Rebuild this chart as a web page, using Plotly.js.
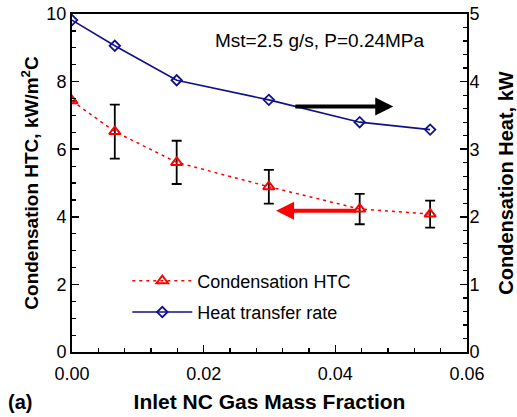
<!DOCTYPE html>
<html><head><meta charset="utf-8">
<script src="https://cdn.plot.ly/plotly-3.0.1.min.js"></script>
<style>html,body{margin:0;padding:0;background:#fff}#chart{width:517px;height:417px}</style>
</head><body><div id="chart"></div>
<script>
const ncFraction = [0.0, 0.0065, 0.0159, 0.0299, 0.0437, 0.0544];
const htc = [7.43, 6.52, 5.61, 4.89, 4.23, 4.08];
const htcErr = [0, 0.8, 0.64, 0.5, 0.45, 0.4];
const heatRate = [4.91, 4.53, 4.02, 3.73, 3.40, 3.29];
const seriesNames = ["Condensation HTC", "Heat transfer rate"];
const noteText = "Mst=2.5 g/s, P=0.24MPa";

const F = "Liberation Sans, Arial, Helvetica, sans-serif";
const traces = [
  {x: ncFraction, y: htc, name: seriesNames[0], type: 'scatter', mode: 'lines+markers',
   legendgroup: 'a',
   line: {color: '#ff0000', width: 1.5, dash: '3px,4px'},
   marker: {symbol: 'triangle-up-open', size: 10, color: '#ff0000', line: {width: 2}},
   error_y: {type: 'data', array: htcErr, visible: true, color: '#000', thickness: 1.8, width: 5}},
  {x: ncFraction, y: heatRate, name: seriesNames[1], type: 'scatter', mode: 'lines+markers',
   yaxis: 'y2', legendgroup: 'b',
   line: {color: '#10108a', width: 1.6},
   marker: {symbol: 'diamond-open', size: 8, color: '#10108a', line: {width: 1.8}}}
];
const axBase = {showgrid: false, zeroline: false, showline: true, linecolor: '#000', linewidth: 2,
  ticks: 'inside', ticklen: 7, tickwidth: 1.5, tickcolor: '#000',
  tickfont: {family: F, size: 18, color: '#000'}};
const layout = {
  width: 517, height: 417,
  margin: {l: 72, r: 50, t: 14, b: 65},
  paper_bgcolor: '#fff', plot_bgcolor: '#fff',
  showlegend: true,
  legend: {x: 0.14, y: 0.265, xanchor: 'left', yanchor: 'top', bgcolor: 'rgba(0,0,0,0)',
    itemwidth: 60,
    font: {family: F, size: 18, color: '#000'}, traceorder: 'grouped', tracegroupgap: 5},
  xaxis: Object.assign({}, axBase, {range: [0, 0.06], dtick: 0.02, tickformat: '.2f', mirror: true,
    ticklabelstandoff: 4,
    minor: {dtick: 0.004, ticks: 'inside', ticklen: 4, tickwidth: 1.2, tickcolor: '#000'},
    title: {text: '<b>Inlet NC Gas Mass Fraction</b>', font: {family: F, size: 21, color: '#000'}, standoff: 12}}),
  yaxis: Object.assign({}, axBase, {range: [0, 10], dtick: 2,
    minor: {dtick: 0.5, ticks: 'inside', ticklen: 4, tickwidth: 1.2, tickcolor: '#000'},
    title: {text: '<b>Condensation HTC, kW/m<sup>2</sup>C</b>', font: {family: F, size: 19, color: '#000'}, standoff: 3}}),
  yaxis2: Object.assign({}, axBase, {range: [0, 5], dtick: 1, overlaying: 'y', side: 'right',
    ticklabelstandoff: -3,
    minor: {dtick: 0.2, ticks: 'inside', ticklen: 4, tickwidth: 1.2, tickcolor: '#000'},
    title: {text: '<b>Condensation Heat, kW</b>', font: {family: F, size: 20, color: '#000'}, standoff: 22}}),
  annotations: [
    {text: noteText, xref: 'paper', yref: 'paper', x: 0.899, y: 0.923, xanchor: 'right', yanchor: 'middle',
     showarrow: false, font: {family: F, size: 19, color: '#000'}},
    {text: '<b>(a)</b>', xref: 'paper', yref: 'paper', x: -0.168, y: -0.148, xanchor: 'left', yanchor: 'middle',
     showarrow: false, font: {family: F, size: 20, color: '#000'}},
    {x: 0.0488, y: 7.26, ax: 0.0337, ay: 7.26, xref: 'x', yref: 'y', axref: 'x', ayref: 'y',
     text: '', showarrow: true, arrowhead: 2, arrowsize: 0.9, arrowwidth: 4, arrowcolor: '#000'},
    {x: 0.031, y: 4.18, ax: 0.0434, ay: 4.18, xref: 'x', yref: 'y', axref: 'x', ayref: 'y',
     text: '', showarrow: true, arrowhead: 2, arrowsize: 0.9, arrowwidth: 4, arrowcolor: '#ff0000'}
  ]
};
Plotly.newPlot('chart', traces, layout, {displayModeBar: false, staticPlot: true});
</script></body></html>
